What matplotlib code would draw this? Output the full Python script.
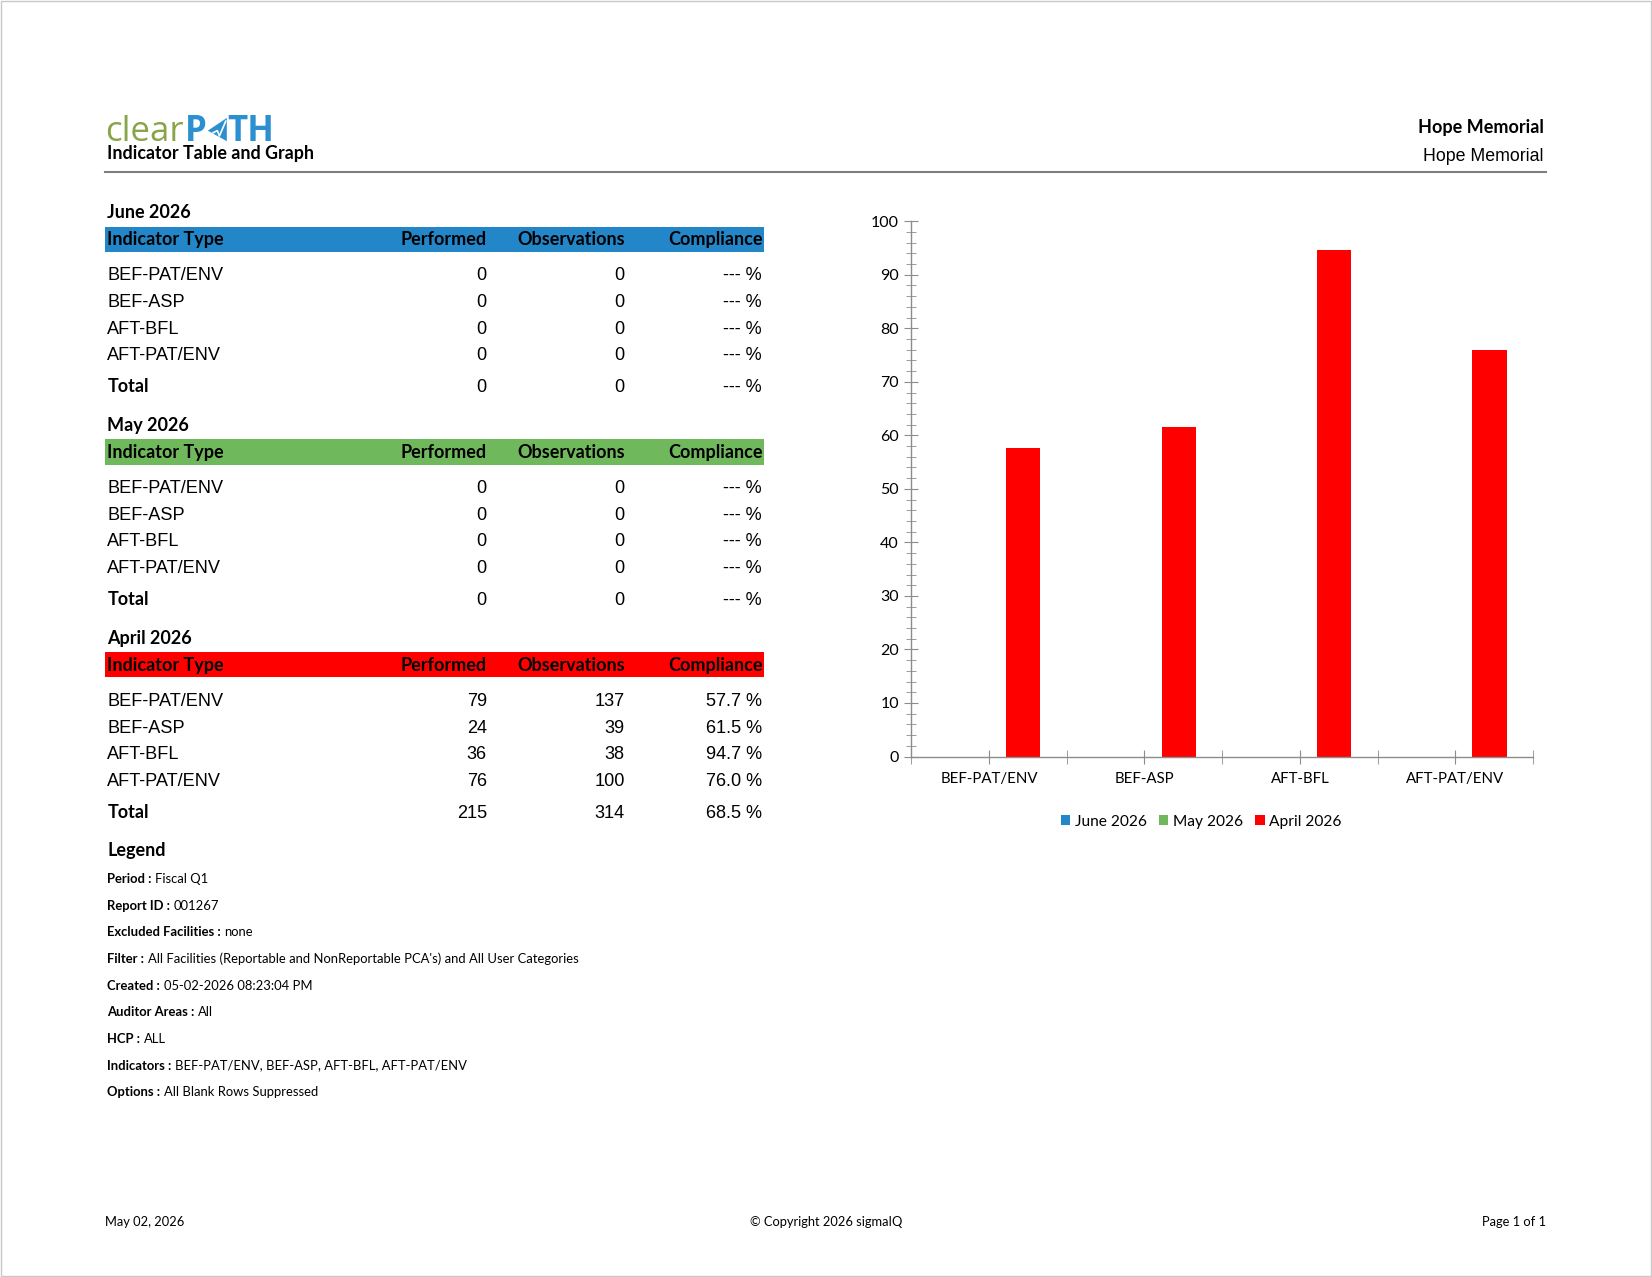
import matplotlib
matplotlib.use("Agg")
import matplotlib.pyplot as plt
from matplotlib.patches import Rectangle, Polygon, Patch
import numpy as np

# data
indicators = ['BEF-PAT/ENV', 'BEF-ASP', 'AFT-BFL', 'AFT-PAT/ENV']
months = ['June 2026', 'May 2026', 'April 2026']
month_colors = ['#2386c8', '#70b85c', '#ff0000']

performed_jun = [0, 0, 0, 0]
observations_jun = [0, 0, 0, 0]
compliance_jun = [None, None, None, None]
total_jun = (0, 0, None)

performed_may = [0, 0, 0, 0]
observations_may = [0, 0, 0, 0]
compliance_may = [None, None, None, None]
total_may = (0, 0, None)

performed_apr = [79, 24, 36, 76]
observations_apr = [137, 39, 38, 100]
compliance_apr = [57.7, 61.5, 94.7, 76.0]
total_apr = (215, 314, 68.5)

legend_keys = ['Period', 'Report ID', 'Excluded Facilities', 'Filter', 'Created',
               'Auditor Areas', 'HCP', 'Indicators', 'Options']
legend_vals = ['Fiscal Q1', '001267', 'none',
               "All Facilities (Reportable and NonReportable PCA's) and All User Categories",
               '05-02-2026 08:23:04 PM', 'All', 'ALL',
               'BEF-PAT/ENV, BEF-ASP, AFT-BFL, AFT-PAT/ENV', 'All Blank Rows Suppressed']

# page geometry (work in reference display pixels)
W, H = 1568.0, 1212.0
def fx(x): return x / W
def fy(y): return 1 - y / H

LATO = ['Lato', 'DejaVu Sans']
ARIAL = ['Liberation Sans', 'DejaVu Sans']
OPEN = ['Open Sans', 'DejaVu Sans']

fig = plt.figure(figsize=(16.52, 12.77), dpi=100)
fig.patch.set_facecolor('white')
fig.patches.append(Rectangle((0.0005, 0.0005), 0.999, 0.999, transform=fig.transFigure,
                             fill=False, edgecolor='#c8c8c8', lw=1))
renderer = fig.canvas.get_renderer()

def txt(x, y, s, size, family=LATO, weight='normal', ha='left', color='black', va='baseline'):
    return fig.text(fx(x), fy(y), s, fontsize=size, family=family, fontweight=weight,
                    ha=ha, va=va, color=color)

def right_edge(t):
    bb = t.get_window_extent(renderer=renderer)
    return bb.x1 / fig.bbox.width * W

# header / logo
t = txt(100, 134, 'clear', 25, family=OPEN, color='#8aa449')
xe = right_edge(t)
t = txt(xe + 1, 134, 'P', 25, family=OPEN, weight='bold', color='#2b8fd0')
xe = right_edge(t)
fig.patches.append(Polygon([(fx(xe + 19), fy(112)), (fx(xe + 1), fy(124)), (fx(xe + 19), fy(134))],
                           closed=True, transform=fig.transFigure, facecolor='#2b8fd0', edgecolor='none'))
fig.lines.append(plt.Line2D([fx(xe + 6), fx(xe + 10), fx(xe + 12), fx(xe + 18)],
                            [fy(126), fy(124), fy(129), fy(115)], transform=fig.transFigure,
                            color='white', lw=1.2))
txt(xe + 19, 134, 'TH', 25, family=OPEN, weight='bold', color='#2b8fd0')
txt(102, 151, 'Indicator Table and Graph', 12.9, weight='bold')
txt(1465, 126, 'Hope Memorial', 13, weight='bold', ha='right')
txt(1465, 153, 'Hope Memorial', 12.8, family=ARIAL, ha='right')
fig.lines.append(plt.Line2D([fx(100), fx(1467)], [fy(163), fy(163)], transform=fig.transFigure,
                            color='#7f7f7f', lw=1.5))

# tables
sections = [
    (months[0], month_colors[0], performed_jun, observations_jun, compliance_jun, total_jun, 201),
    (months[1], month_colors[1], performed_may, observations_may, compliance_may, total_may, 403),
    (months[2], month_colors[2], performed_apr, observations_apr, compliance_apr, total_apr, 605),
]
col_x = [462, 593, 723]

def pct(v):
    return '--- %' if v is None else f'{v:.1f} %'

for name, color, perf, obs, comp, tot, y0 in sections:
    txt(102, y0 + 6, name, 13, weight='bold')
    fig.patches.append(Rectangle((fx(100), fy(y0 + 38)), (725 - 100) / W, 24 / H,
                                 transform=fig.transFigure, facecolor=color, edgecolor='none'))
    hy = y0 + 32
    txt(102, hy, 'Indicator Type', 13, weight='bold')
    txt(462, hy, 'Performed', 13, weight='bold', ha='right')
    txt(593, hy, 'Observations', 13, weight='bold', ha='right')
    txt(724, hy, 'Compliance', 13, weight='bold', ha='right')
    for i, ind in enumerate(indicators):
        ry = y0 + 65 + i * 25.3
        txt(102, ry, ind, 13.1, family=ARIAL)
        txt(col_x[0], ry, str(perf[i]), 13.1, family=ARIAL, ha='right')
        txt(col_x[1], ry, str(obs[i]), 13.1, family=ARIAL, ha='right')
        txt(col_x[2], ry, pct(comp[i]), 13.1, family=ARIAL, ha='right')
    ty = y0 + 171
    txt(102, ty, 'Total', 13, weight='bold')
    txt(col_x[0], ty, str(tot[0]), 13.1, family=ARIAL, ha='right')
    txt(col_x[1], ty, str(tot[1]), 13.1, family=ARIAL, ha='right')
    txt(col_x[2], ty, pct(tot[2]), 13.1, family=ARIAL, ha='right')

# legend block
txt(102, 812, 'Legend', 13, weight='bold')
for i, (k, v) in enumerate(zip(legend_keys, legend_vals)):
    ly = 838 + i * 25.3
    t = txt(102, ly, k + ' :', 9.4, weight='bold')
    xe = right_edge(t)
    txt(xe + 3, ly, v, 9.4)

# footer
txt(100, 1164, 'May 02, 2026', 9.3)
txt(784, 1164, '\u00a9 Copyright 2026 sigmaIQ', 9.3, ha='center')
txt(1467, 1164, 'Page 1 of 1', 9.3, ha='right')

# chart
ax = fig.add_axes([fx(865), fy(718), (1455 - 865) / W, (718 - 210) / H])
x = np.arange(len(indicators))
bw = 0.22
series = [
    [0 if c is None else c for c in compliance_jun],
    [0 if c is None else c for c in compliance_may],
    compliance_apr,
]
for k, vals in enumerate(series):
    ax.bar(x + (k - 1) * bw, vals, bw, color=month_colors[k], edgecolor='none', label=months[k])

ax.set_xlim(-0.5, len(indicators) - 0.5)
ax.set_ylim(0, 100)
for s in ['top', 'right']:
    ax.spines[s].set_visible(False)
for s in ['left', 'bottom']:
    ax.spines[s].set_color('#8c8c8c')
    ax.spines[s].set_linewidth(1)
ax.set_yticks(np.arange(0, 101, 10))
ax.set_yticks(np.arange(0, 101, 2), minor=True)
ax.set_xticks(x)
ax.set_xticklabels(indicators)
ax.set_xticks(np.arange(-0.5, len(indicators), 1.0), minor=True)
ax.tick_params(axis='y', which='major', direction='inout', length=10, color='#8c8c8c',
               labelsize=11.5, pad=4)
ax.tick_params(axis='y', which='minor', direction='inout', length=7, color='#8c8c8c')
ax.tick_params(axis='x', which='both', direction='inout', length=10, color='#8c8c8c',
               labelsize=10.8, pad=6)
for lab in ax.get_xticklabels() + ax.get_yticklabels():
    lab.set_family(LATO)

handles = [Patch(facecolor=c, edgecolor='none') for c in month_colors]
fig.legend(handles, months, loc='center', bbox_to_anchor=(fx(1140), fy(780)), ncol=3,
           frameon=False, prop={'family': LATO, 'size': 11.2}, handlelength=0.6,
           handleheight=0.6, handletextpad=0.3, columnspacing=0.8)

fig.savefig('out.png', dpi=100)
